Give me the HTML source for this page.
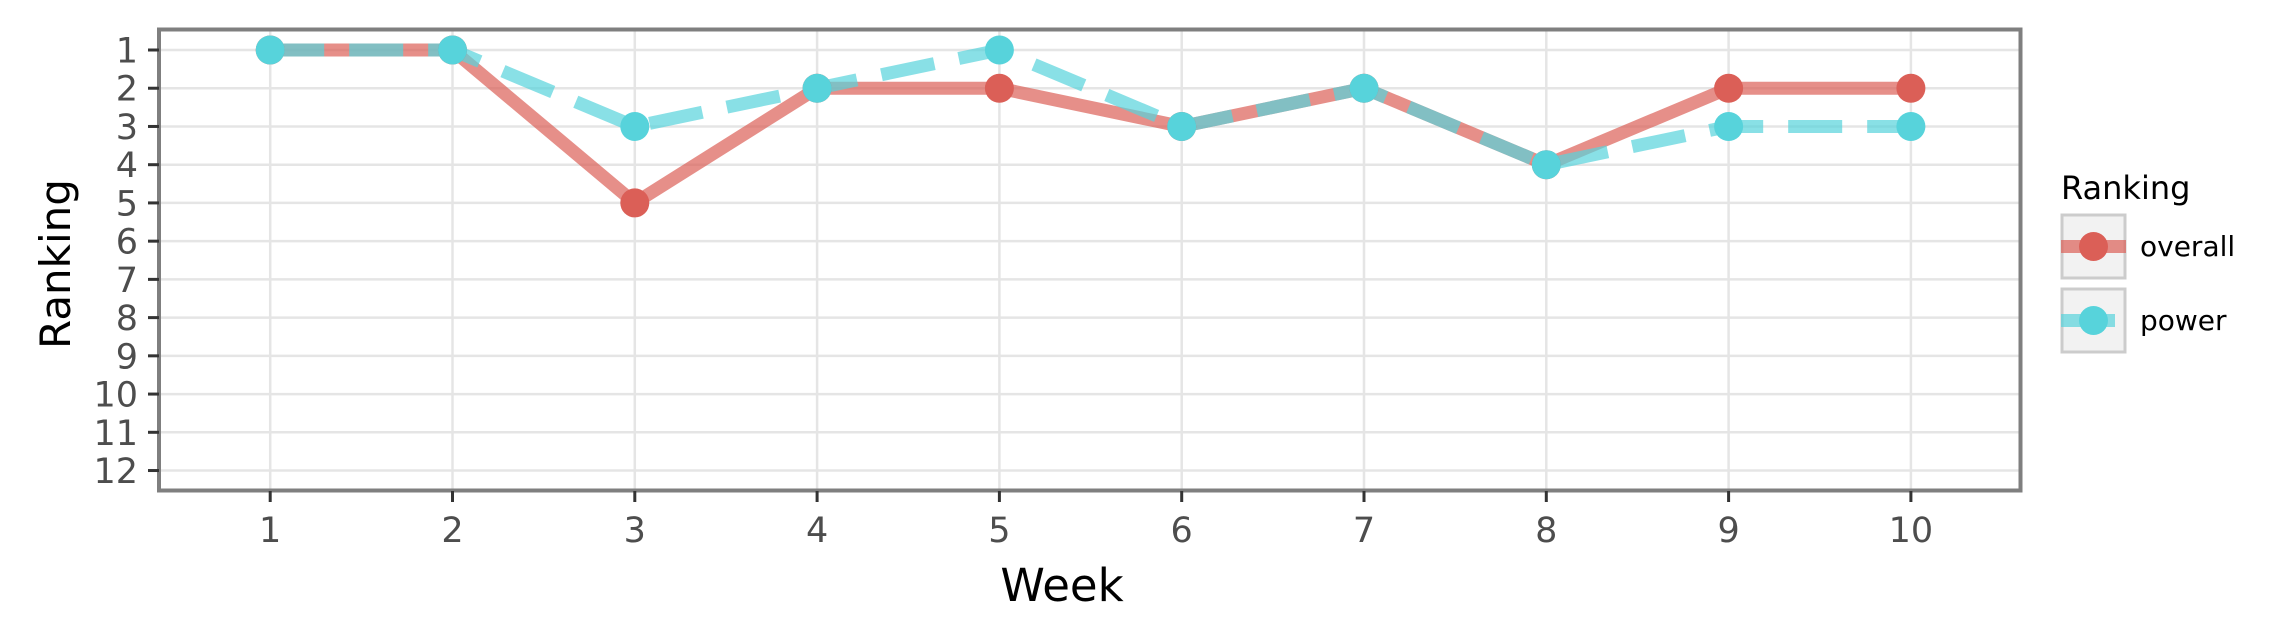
<!DOCTYPE html>
<html><head><meta charset="utf-8"><style>
html,body{margin:0;padding:0;background:#fff;}
svg{display:block;font-family:"DejaVu Sans","Liberation Sans",sans-serif;}
</style></head><body>
<svg id="chart" width="2276" height="642" viewBox="0 0 2276 642" xmlns="http://www.w3.org/2000/svg">
<g id="grid"></g>
<g id="series"></g>
<rect x="159" y="29.5" width="1861.5" height="461" fill="none" stroke="#7f7f7f" stroke-width="4"/>
<g id="axes"></g>
<text x="1062" y="601" font-size="45" text-anchor="middle" fill="#000">Week</text>
<text transform="translate(70,264) rotate(-90)" font-size="42" text-anchor="middle" fill="#000">Ranking</text>
<g>
<text x="2061" y="199" font-size="32" fill="#000">Ranking</text>
<g>
<rect x="2062" y="215" width="63" height="63" fill="#f2f2f2" stroke="#cccccc" stroke-width="3"/>
<line x1="2061" y1="246.5" x2="2126" y2="246.5" stroke="#db5f57" stroke-opacity="0.7" stroke-width="13"/>
<circle cx="2093.5" cy="246.5" r="14.5" fill="#db5f57"/>
<text x="2140" y="256" font-size="28" fill="#000">overall</text>
</g>
<g>
<rect x="2062" y="289" width="63" height="63" fill="#f2f2f2" stroke="#cccccc" stroke-width="3"/>
<line x1="2061" y1="320.5" x2="2115" y2="320.5" stroke="#57d3db" stroke-opacity="0.7" stroke-width="13"/>
<circle cx="2093.5" cy="320.5" r="14.5" fill="#57d3db"/>
<text x="2140" y="330" font-size="28" fill="#000">power</text>
</g>
</g>
</svg>
<script>
const weeks = [1,2,3,4,5,6,7,8,9,10];
const overall = [1,1,5,2,2,3,2,4,2,2];
const power = [1,1,3,2,1,3,2,4,3,3];
const yTicks = [1,2,3,4,5,6,7,8,9,10,11,12];
const xTicks = [1,2,3,4,5,6,7,8,9,10];

const NS = "http://www.w3.org/2000/svg";
function xS(w){return 270.2 + (w-1)*182.3;}
function yS(r){return 50 + (r-1)*38.23;}
function mk(tag, attrs, parent){const e=document.createElementNS(NS,tag);for(const k in attrs)e.setAttribute(k,attrs[k]);parent.appendChild(e);return e;}
const grid=document.getElementById('grid'), axes=document.getElementById('axes'), series=document.getElementById('series');
yTicks.forEach(t=>{
  const l=mk('line',{x1:159,x2:2020,y1:yS(t),y2:yS(t),stroke:'#e5e5e5','stroke-width':2.5},grid);
  
  
  const tk=mk('line',{x1:148,x2:159,y1:yS(t),y2:yS(t),stroke:'#333','stroke-width':3},axes);
  
  
  const tx=mk('text',{x:138,y:yS(t)+12.5,'font-size':35,'text-anchor':'end',fill:'#4d4d4d'},axes);
  tx.textContent=t;
  
  
});
xTicks.forEach(t=>{
  const l=mk('line',{x1:xS(t),x2:xS(t),y1:29.5,y2:490.5,stroke:'#e5e5e5','stroke-width':2.5},grid);
  
  
  const tk=mk('line',{x1:xS(t),x2:xS(t),y1:491,y2:502,stroke:'#333','stroke-width':3},axes);
  
  
  const tx=mk('text',{x:xS(t),y:542,'font-size':35,'text-anchor':'middle',fill:'#4d4d4d'},axes);
  tx.textContent=t;
  
  
});
function pts(vals){return weeks.map((w,i)=>xS(w)+','+yS(vals[i])).join(' ');}
const lo=mk('polyline',{points:pts(overall),fill:'none',stroke:'#db5f57','stroke-opacity':0.7,'stroke-width':13},series);


const lp=mk('polyline',{points:pts(power),fill:'none',stroke:'#57d3db','stroke-opacity':0.7,'stroke-width':13,'stroke-dasharray':'54 25'},series);


weeks.forEach((w,i)=>{
  const c=mk('circle',{cx:xS(w),cy:yS(overall[i]),r:14.5,fill:'#db5f57'},series);
  
  
});
weeks.forEach((w,i)=>{
  const c=mk('circle',{cx:xS(w),cy:yS(power[i]),r:14.5,fill:'#57d3db'},series);
  
  
});
</script>
</body></html>
